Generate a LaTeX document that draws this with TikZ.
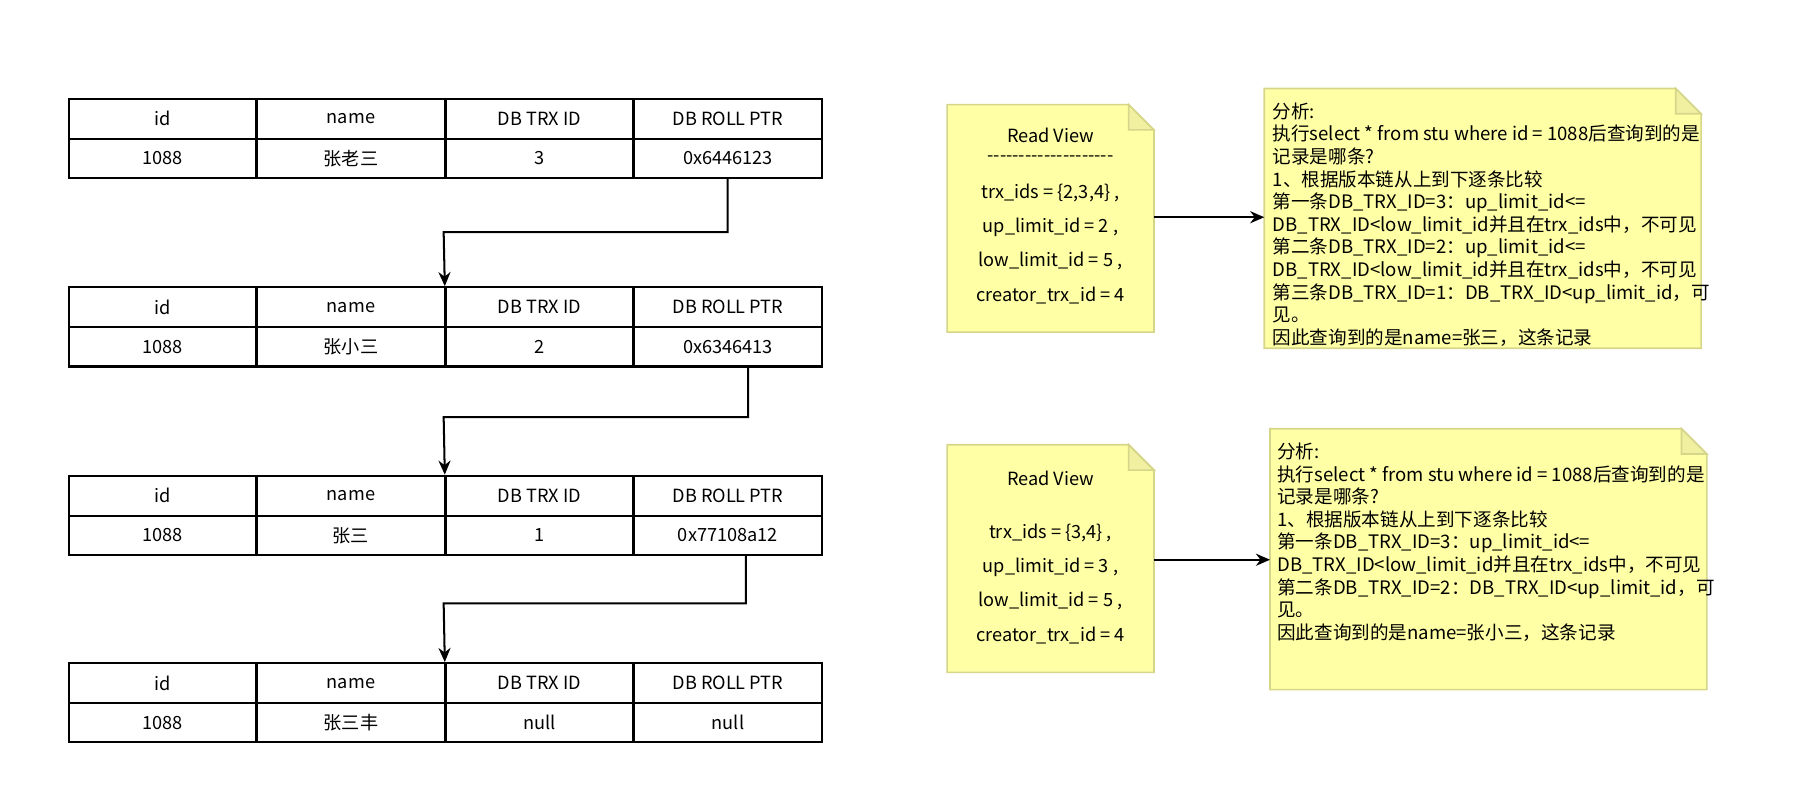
\documentclass[tikz,border=0pt]{standalone}
\usepackage{fontspec}
\setmainfont{Noto Sans CJK SC}
\begin{document}
\begin{tikzpicture}[x=0.02cm,y=-0.02cm,
 cell/.style={draw,line width=1pt,minimum width=3.26cm,minimum height=0.7cm,inner sep=0pt,font=\fontsize{9}{10}\selectfont},
 arr/.style={line width=1pt,-{Stealth[length=7pt,width=6pt]}},
 notefill/.style={fill={rgb,255:red,255;green,255;blue,166},draw={rgb,255:red,214;green,214;blue,138},line width=0.8pt},
 foldfill/.style={fill={rgb,255:red,240;green,240;blue,160},draw={rgb,255:red,214;green,214;blue,138},line width=0.8pt},
 rv/.style={inner sep=0pt,font=\fontsize{9}{11}\selectfont,align=center},
 nt/.style={font=\fontsize{9.2}{11.2}\selectfont,align=left,anchor=north west,inner sep=0pt}]
\usetikzlibrary{arrows.meta}
\useasboundingbox (0,0) rectangle (1560,705);
\newcommand{\tbl}[5]{%
 \foreach \t [count=\i from 0] in {id,name,DB TRX ID,DB ROLL PTR}
  \node[cell,anchor=north west] (#1h\i) at ({59+164*\i},#2) {\t};
 \node[cell,anchor=north west,minimum height=0.68cm] (#1a) at (59,#2+35) {1088};
 \node[cell,anchor=north west,minimum height=0.68cm] (#1b) at (223,#2+35) {#3};
 \node[cell,anchor=north west,minimum height=0.68cm] (#1c) at (387,#2+35) {#4};
 \node[cell,anchor=north west,minimum height=0.68cm] (#1d) at (551,#2+35) {#5};}
\tbl{A}{85}{张老三}{3}{0x6446123}
\tbl{B}{249}{张小三}{2}{0x6346413}
\tbl{C}{413}{张三}{1}{0x77108a12}
\tbl{D}{576}{张三丰}{null}{null}
\coordinate (p1) at (633,202);\coordinate (q1) at (386,202);
\coordinate (p2) at (651,363);\coordinate (q2) at (386,363);
\coordinate (p3) at (649,525);\coordinate (q3) at (386,525);
\draw[arr] (Ad.south -| p1) -- (p1) -- (q1) -- (Bh2.north west);
\draw[arr] (Bd.south -| p2) -- (p2) -- (q2) -- (Ch2.north west);
\draw[arr] (Cd.south -| p3) -- (p3) -- (q3) -- (Dh2.north west);
\newcommand{\note}[5]{%
 \draw[notefill] (#1,#2) -- (#3-22,#2) -- (#3,#2+22) -- (#3,#4) -- (#1,#4) -- cycle;
 \draw[foldfill] (#3-22,#2) -- (#3-22,#2+22) -- (#3,#2+22) -- cycle;
 \coordinate (#5) at (#1,#2);}
\note{824}{91}{1004}{289}{n1}
\note{824}{387}{1004}{585}{n2}
\note{1100}{77}{1480}{303}{m1}
\note{1105}{373}{1485}{600}{m2}
\node[rv] (r1h) at (914,118) {Read View};
\node[rv] (r1d) at (914,138) {{-}{-}{-}{-}{-}{-}{-}{-}{-}{-}{-}{-}{-}{-}{-}{-}{-}{-}{-}{-}};
\node[rv] (r1) at (914,212) {trx\_ids = \{2,3,4\} ,\\[6pt]up\_limit\_id = 2 ,\\[6pt]low\_limit\_id = 5 ,\\[6pt]creator\_trx\_id = 4};
\node[rv] (r2h) at (914,416) {Read View};
\node[rv] (r2) at (914,508) {trx\_ids = \{3,4\} ,\\[6pt]up\_limit\_id = 3 ,\\[6pt]low\_limit\_id = 5 ,\\[6pt]creator\_trx\_id = 4};
\node[nt] (t1) at (1107,89) {分析:\\执行select * from stu where id = 1088后查询到的是\\记录是哪条?\\1、根据版本链从上到下逐条比较\\第一条DB\_TRX\_ID=3：up\_limit\_id<=\\DB\_TRX\_ID<low\_limit\_id并且在trx\_ids中，不可见\\第二条DB\_TRX\_ID=2：up\_limit\_id<=\\DB\_TRX\_ID<low\_limit\_id并且在trx\_ids中，不可见\\第三条DB\_TRX\_ID=1：DB\_TRX\_ID<up\_limit\_id，可\\见。\\因此查询到的是name=张三，这条记录};
\node[nt] (t2) at (1111,385) {分析:\\执行select * from stu where id = 1088后查询到的是\\记录是哪条?\\1、根据版本链从上到下逐条比较\\第一条DB\_TRX\_ID=3：up\_limit\_id<=\\DB\_TRX\_ID<low\_limit\_id并且在trx\_ids中，不可见\\第二条DB\_TRX\_ID=2：DB\_TRX\_ID<up\_limit\_id，可\\见。\\因此查询到的是name=张小三，这条记录};
\coordinate (a1) at (1004,189);\coordinate (b1) at (1100,189);
\coordinate (a2) at (1004,487);\coordinate (b2) at (1105,487);
\draw[arr] (a1) -- (b1);
\draw[arr] (a2) -- (b2);
\end{tikzpicture}
\end{document}
